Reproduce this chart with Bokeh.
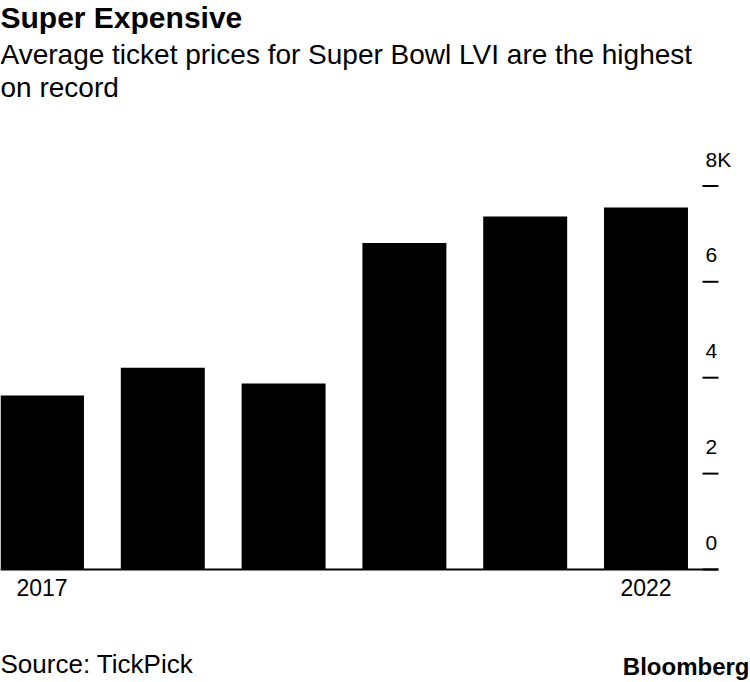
from bokeh.plotting import figure
from bokeh.models import Range1d, Label
from bokeh.core.properties import value
from bokeh.embed import file_html
from bokeh.resources import INLINE

# ---- data ----
years = [2017, 2018, 2019, 2020, 2021, 2022]
prices = [3630, 4210, 3880, 6810, 7360, 7550]
y_ticks = [0, 2000, 4000, 6000, 8000]
y_tick_labels = ["0", "2", "4", "6", "8K"]
x_ticks = [2017, 2022]
x_tick_labels = ["2017", "2022"]

title_text = "Super Expensive"
subtitle_lines = ["Average ticket prices for Super Bowl LVI are the highest", "on record"]
source_text = "Source: TickPick"
brand_text = "Bloomberg"

# ---- layout (canvas pixels, origin top-left) ----
FONT = "Liberation Sans"
W, H = 750, 682
ZERO_PY = 569          # pixel row of the value 0
PX_PER_UNIT = 383.6 / 8000.0
AXIS_END_PX = 718      # right end of baseline / ticks
TICK_LEN = 16
BAR_WIDTH = 0.695
BASE_FIX = 0.37        # empirical baseline correction (in em)

X_START = 2016.6565
PX_PER_YEAR = 120.8
X_END = X_START + W / PX_PER_YEAR
Y_START = -(H - ZERO_PY) / PX_PER_UNIT
Y_END = ZERO_PY / PX_PER_UNIT


def xd(px):
    return X_START + px / PX_PER_YEAR


def yd(py):
    return (ZERO_PY - py) / PX_PER_UNIT


def base_y(py, size):
    # data y for a text whose alphabetic baseline should sit at canvas row py
    return yd(py - BASE_FIX * size)


p = figure(width=W, height=H, output_backend="svg", toolbar_location=None,
           x_range=Range1d(X_START, X_END), y_range=Range1d(Y_START, Y_END),
           x_axis_location=None, y_axis_location=None, min_border=0,
           outline_line_color=None, background_fill_color="white",
           border_fill_color="white")
p.grid.visible = False

# bars
p.vbar(x=years, top=prices, bottom=0, width=BAR_WIDTH, fill_color="black", line_color=None)

# baseline
p.segment(x0=[X_START], x1=[xd(AXIS_END_PX)], y0=[0], y1=[0], line_color="black", line_width=2)

# y ticks (right side, pointing inwards)
p.segment(x0=[xd(AXIS_END_PX - TICK_LEN)] * len(y_ticks), x1=[xd(AXIS_END_PX)] * len(y_ticks),
          y0=y_ticks, y1=y_ticks, line_color="black", line_width=2)

# y tick labels (above each tick)
YL = 21
p.text(x=[xd(705)] * len(y_ticks),
       y=[t + (19 + BASE_FIX * YL) / PX_PER_UNIT for t in y_ticks], text=y_tick_labels,
       text_font=value(FONT), text_font_size=value(f"{YL}px"), text_color="black",
       text_align="left", text_baseline="alphabetic")

# x tick labels
XL = 23
p.text(x=x_ticks, y=[base_y(596, XL)] * len(x_ticks), text=x_tick_labels,
       text_font=value(FONT), text_font_size=value(f"{XL}px"), text_color="black",
       text_align="center", text_baseline="alphabetic")

# titles and footer
TS, SS, FS, BS = 30, 28, 26, 24
p.add_layout(Label(x=xd(0), y=base_y(28, TS), text=title_text, text_font=FONT,
                   text_font_size=f"{TS}px", text_font_style="bold", text_color="black",
                   text_baseline="alphabetic", text_align="left"))
for line, base in zip(subtitle_lines, [64, 97]):
    p.add_layout(Label(x=xd(0), y=base_y(base, SS), text=line, text_font=FONT,
                       text_font_size=f"{SS}px", text_color="black",
                       text_baseline="alphabetic", text_align="left"))
p.add_layout(Label(x=xd(0), y=base_y(673, FS), text=source_text, text_font=FONT,
                   text_font_size=f"{FS}px", text_color="black",
                   text_baseline="alphabetic", text_align="left"))
p.add_layout(Label(x=xd(749), y=base_y(675, BS), text=brand_text, text_font=FONT,
                   text_font_size=f"{BS}px", text_font_style="bold", text_color="black",
                   text_baseline="alphabetic", text_align="right"))

open("out.html", "w").write(file_html(p, INLINE))
